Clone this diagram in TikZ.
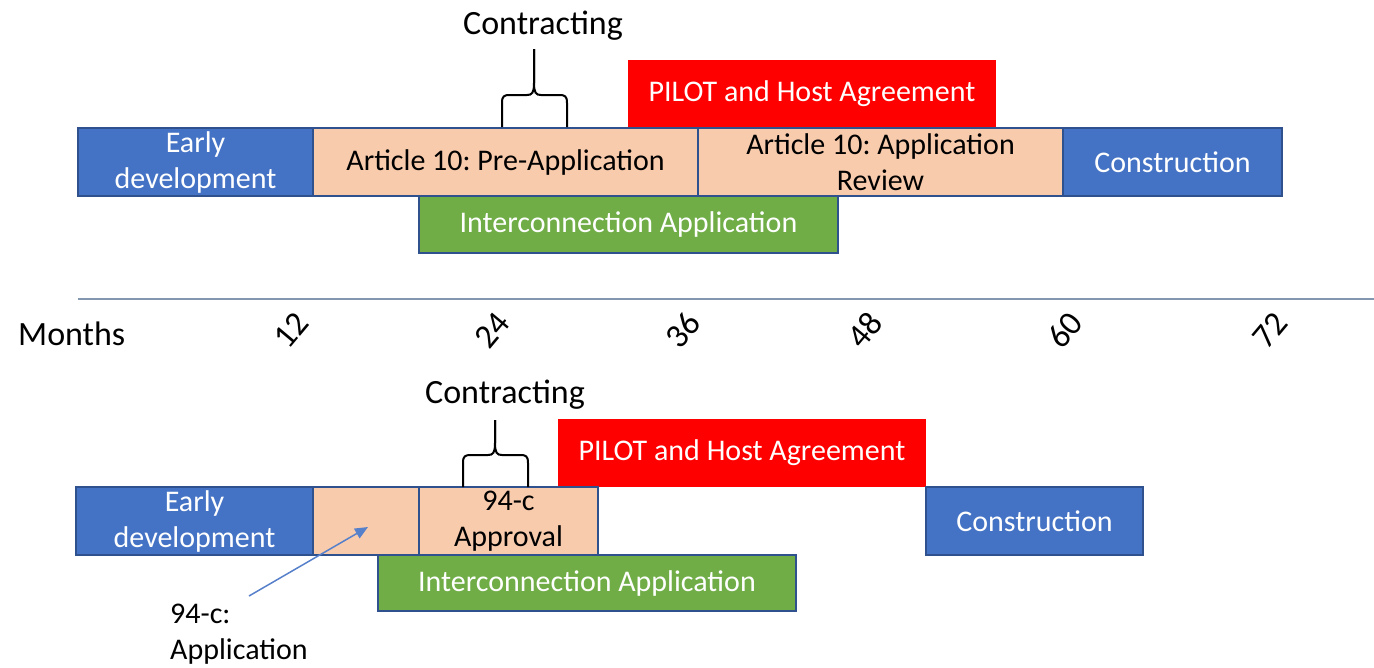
\documentclass[tikz,border=0pt]{standalone}
\usepackage{fontspec}
\setmainfont{Carlito}
\usepackage{tikz}
\usetikzlibrary{arrows.meta,positioning}
\definecolor{devblue}{HTML}{4472C4}
\definecolor{barline}{HTML}{2F528F}
\definecolor{permitpeach}{HTML}{F8CBAD}
\definecolor{gridgreen}{HTML}{70AD47}
\definecolor{pilotred}{HTML}{FF0000}
\definecolor{axisgray}{HTML}{8497B0}
\frenchspacing

\begin{document}
\begin{tikzpicture}[
    x=1pt, y=-1pt,
    font=\fontsize{30}{36}\selectfont,
    bar/.style={rectangle, draw=barline, line width=2pt, inner sep=1pt, outer sep=0pt, minimum height=68pt, align=center},
    devbar/.style={bar, fill=devblue, text=white},
    permitbar/.style={bar, fill=permitpeach},
    gridbar/.style={bar, fill=gridgreen, text=white, minimum height=57pt},
    pilotbar/.style={rectangle, fill=pilotred, text=white, minimum height=68pt, inner sep=0pt, outer sep=0pt},
    bigtext/.style={font=\fontsize{34}{40}\selectfont},
    monthlbl/.style={bigtext, rotate=50, inner sep=0pt},
    ptr/.style={-{Triangle[length=13pt, width=11pt]}, line width=1.5pt, devblue!90},
    cbrace/.pic={
        \draw[line width=2pt] (0,0) -- (0,-24) .. controls (0,-31) and (2,-32) .. (8,-32) -- (25,-32)
            .. controls (30,-32) and (32,-34) .. (32,-44) -- (32,-#1);
        \draw[line width=2pt] (65,0) -- (65,-24) .. controls (65,-31) and (63,-32) .. (57,-32) -- (39,-32)
            .. controls (34,-32) and (32,-34) .. (32,-44) -- (32,-#1);
    }
]
\useasboundingbox (0,0) rectangle (1374,667);

% Top timeline: Article 10
\node[pilotbar, minimum width=368pt, anchor=south west] (pilot1) at (628,128) {PILOT and Host Agreement};
\node[devbar, minimum width=235pt, anchor=north west] (early1) at (78,128) {Early\\development};
\node[permitbar, minimum width=385pt, right=0pt of early1] (pre1) {Article 10: Pre-Application};
\node[permitbar, minimum width=365pt, right=0pt of pre1] (review1) {Article 10: Application\\Review};
\node[devbar, minimum width=219pt, right=0pt of review1] (constr1) {Construction};
\node[gridbar, minimum width=419pt, anchor=north west] (inter1) at (419,196) {Interconnection Application};

% Contracting
\pic at (502,127) {cbrace=78};
\node[bigtext] (contract1) at (543,26) {Contracting};

% Axis
\coordinate (axisL) at (78,299);
\coordinate (axisR) at (1374,299);
\draw[axisgray, line width=1.5pt] (axisL) -- (axisR);
\node[bigtext, anchor=base west, inner sep=0pt] (months) at (18,345) {Months};
\foreach \m/\xx in {12/291, 24/492, 36/683, 48/865, 60/1065, 72/1270}
    \node[monthlbl] (m\m) at (\xx,330) {\m};

% Bottom timeline: 94-c
\node[pilotbar, minimum width=368pt, anchor=south west] (pilot2) at (558,487) {PILOT and Host Agreement};
\node[devbar, minimum width=237pt, anchor=north west] (early2) at (76,487) {Early\\development};
\node[permitbar, minimum width=106pt, right=0pt of early2] (blank2) {};
\node[permitbar, minimum width=179pt, right=0pt of blank2] (approval2) {94-c\\Approval};
\node[devbar, minimum width=217pt, anchor=north west] (constr2) at (926,487) {Construction};
\node[gridbar, minimum width=418pt, minimum height=56pt, anchor=north west] (inter2) at (378,555) {Interconnection Application};

% Contracting
\pic at (463,487) {cbrace=67};
\node[bigtext] (contract2) at (505,395) {Contracting};

% 94-c application callout
\node[anchor=west, align=left, inner sep=0pt] (note) at (170,634) {94-c:\\Application};
\coordinate (notetail) at (249,596);
\coordinate (notehead) at (368,527);
\draw[ptr] (notetail) -- (notehead);

\end{tikzpicture}
\end{document}
